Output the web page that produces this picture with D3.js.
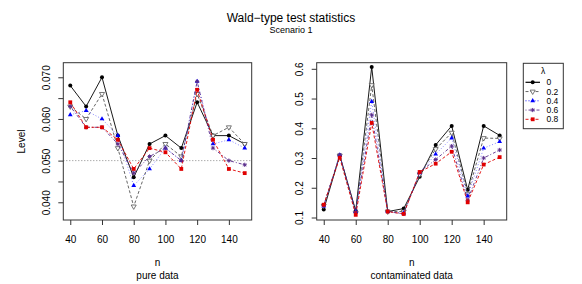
<!DOCTYPE html>
<html>
<head>
<meta charset="utf-8">
<script src="https://cdn.jsdelivr.net/npm/d3@7"></script>
<style>
body { margin: 0; background: #fff; }
text { font-family: "Liberation Sans", Arial, sans-serif; fill: #000; }
</style>
</head>
<body>
<div id="chart"></div>
<script>
const width = 582
const height = 284

// sample sizes
const nVals = [40, 50, 60, 70, 80, 90, 100, 110, 120, 130, 140, 150]
const lambdas = ["0", "0.2", "0.4", "0.6", "0.8"]

// level, pure data
const pureL0  = [0.068, 0.063, 0.070, 0.056, 0.046, 0.054, 0.056, 0.053, 0.064, 0.056, 0.056, 0.054]
const pureL02 = [0.063, 0.060, 0.066, 0.053, 0.039, 0.050, 0.054, 0.051, 0.066, 0.056, 0.058, 0.054]
const pureL04 = [0.061, 0.062, 0.060, 0.056, 0.044, 0.048, 0.053, 0.050, 0.069, 0.054, 0.055, 0.053]
const pureL06 = [0.063, 0.058, 0.058, 0.054, 0.047, 0.051, 0.053, 0.050, 0.069, 0.053, 0.050, 0.049]
const pureL08 = [0.064, 0.058, 0.058, 0.055, 0.048, 0.053, 0.052, 0.048, 0.067, 0.055, 0.048, 0.047]

// level, contaminated data
const contL0  = [0.127, 0.309, 0.123, 0.606, 0.120, 0.130, 0.237, 0.344, 0.408, 0.193, 0.408, 0.376]
const contL02 = [0.140, 0.308, 0.115, 0.545, 0.120, 0.120, 0.245, 0.330, 0.385, 0.180, 0.367, 0.366]
const contL04 = [0.138, 0.310, 0.120, 0.490, 0.120, 0.115, 0.250, 0.313, 0.367, 0.172, 0.333, 0.355]
const contL06 = [0.140, 0.310, 0.118, 0.445, 0.120, 0.112, 0.252, 0.295, 0.340, 0.158, 0.300, 0.327]
const contL08 = [0.143, 0.301, 0.109, 0.418, 0.120, 0.112, 0.253, 0.281, 0.321, 0.151, 0.278, 0.303]

const xTicks = [40, 60, 80, 100, 120, 140]
const pureYTicks = [0.040, 0.045, 0.050, 0.055, 0.060, 0.065, 0.070]
const pureYLabels = [0.040, 0.050, 0.060, 0.070]
const contYTicks = [0.1, 0.2, 0.3, 0.4, 0.5, 0.6]
const nominalLevel = 0.05

// look of each lambda series
const styles = [
    {color: "#000000", dash: null,      shape: "circle"},
    {color: "#555555", dash: "3,2",     shape: "triDown"},
    {color: "#0000ff", dash: "1,2",     shape: "triUp"},
    {color: "#5a2d8c", dash: "1,2,3,2", shape: "star"},
    {color: "#e00000", dash: "3,2",     shape: "square"}
]

const svg = d3.select("#chart").append("svg")
    .attr("width", width)
    .attr("height", height)

svg.append("text")
    .attr("x", 291).attr("y", 22)
    .attr("text-anchor", "middle")
    .style("font-size", "12px")
    .text("Wald\u2212type test statistics")

svg.append("text")
    .attr("x", 291).attr("y", 33)
    .attr("text-anchor", "middle")
    .style("font-size", "9px")
    .text("Scenario 1")

function drawMark(g, shape, color, x, y) {
    if (shape == "circle") {
        g.append("circle").attr("cx", x).attr("cy", y).attr("r", 2).attr("fill", color)
    } else if (shape == "square") {
        g.append("rect").attr("x", x - 1.9).attr("y", y - 1.9).attr("width", 3.8).attr("height", 3.8).attr("fill", color)
    } else if (shape == "triUp") {
        g.append("path").attr("d", d3.symbol(d3.symbolTriangle, 10)())
            .attr("transform", `translate(${x},${y})`).attr("fill", color)
    } else if (shape == "triDown") {
        g.append("path").attr("d", d3.symbol(d3.symbolTriangle, 11)())
            .attr("transform", `translate(${x},${y}) rotate(180)`)
            .attr("fill", "white").attr("stroke", color).attr("stroke-width", 0.8)
    } else if (shape == "star") {
        const r = 2.1
        const p = `M${x - r},${y}L${x + r},${y}M${x},${y - r}L${x},${y + r}` +
            `M${x - r * 0.7},${y - r * 0.7}L${x + r * 0.7},${y + r * 0.7}M${x - r * 0.7},${y + r * 0.7}L${x + r * 0.7},${y - r * 0.7}`
        g.append("path").attr("d", p).attr("stroke", color).attr("stroke-width", 1).attr("fill", "none")
    }
}

function panel(opts) {
    const x = d3.scaleLinear().domain([35.6, 154.4]).range([opts.x0, opts.x1])
    const y = d3.scaleLinear().domain(opts.yDomain).range([220, 62.7])
    const g = svg.append("g")

    // x axis
    const xa = g.append("g")
        .attr("transform", "translate(0,220)")
        .call(d3.axisBottom(x).tickValues(xTicks).tickSize(5))
    xa.select(".domain").remove()
    xa.selectAll("line").attr("stroke", "#333")
    xa.selectAll("text").attr("y", 22.5).attr("dy", 0)
        .style("font-size", "10px").style("font-family", "Liberation Sans, Arial, sans-serif")

    // y axis with labels parallel to the axis
    const ya = g.append("g")
        .attr("transform", `translate(${opts.x0},0)`)
        .call(d3.axisLeft(y).tickValues(opts.yTicks).tickSize(5)
            .tickFormat(d => opts.yLabels.some(v => Math.abs(v - d) < 1e-9) ? opts.fmt(d) : ""))
    ya.select(".domain").remove()
    ya.selectAll("line").attr("stroke", "#333")
    ya.selectAll("text")
        .attr("transform", "rotate(-90)")
        .attr("x", 0).attr("y", -13.5).attr("dy", 0)
        .attr("text-anchor", "middle")
        .style("font-size", "10px").style("font-family", "Liberation Sans, Arial, sans-serif")

    if (opts.refLine != null) {
        g.append("line")
            .attr("x1", opts.x0).attr("x2", opts.x1)
            .attr("y1", y(opts.refLine)).attr("y2", y(opts.refLine))
            .attr("stroke", "#888").attr("stroke-dasharray", "1,2")
    }

    const line = d3.line().x((d, i) => x(nVals[i])).y(d => y(d))
    opts.series.forEach((s, k) => {
        const st = styles[k]
        g.append("path")
            .attr("d", line(s))
            .attr("fill", "none")
            .attr("stroke", st.color)
            .attr("stroke-width", st.shape == "triUp" ? 0.8 : 0.9)
            .attr("stroke-opacity", st.shape == "triUp" ? 0.6 : 1)
            .attr("stroke-dasharray", st.dash)
        s.forEach((v, i) => drawMark(g, st.shape, st.color, x(nVals[i]), y(v)))
    })

    g.append("rect")
        .attr("x", opts.x0).attr("y", 62.7)
        .attr("width", opts.x1 - opts.x0).attr("height", 220 - 62.7)
        .attr("fill", "none").attr("stroke", "#333").attr("stroke-width", 1)

    const cx = (opts.x0 + opts.x1) / 2
    g.append("text").attr("x", cx).attr("y", 266).attr("text-anchor", "middle")
        .style("font-size", "10px").text("n")
    g.append("text").attr("x", cx).attr("y", 279).attr("text-anchor", "middle")
        .style("font-size", "10px").text(opts.xlab)
}

panel({
    x0: 63.3, x1: 251.7,
    yDomain: [0.03575, 0.0735],
    yTicks: pureYTicks, yLabels: pureYLabels,
    fmt: d3.format(".3f"),
    refLine: nominalLevel,
    series: [pureL0, pureL02, pureL04, pureL06, pureL08],
    xlab: "pure data"
})

panel({
    x0: 316.7, x1: 506.7,
    yDomain: [0.0916, 0.6205],
    yTicks: contYTicks, yLabels: contYTicks,
    fmt: d3.format(".1f"),
    refLine: null,
    series: [contL0, contL02, contL04, contL06, contL08],
    xlab: "contaminated data"
})

svg.append("text")
    .attr("transform", "translate(24.5,141.5) rotate(-90)")
    .attr("text-anchor", "middle")
    .style("font-size", "10px")
    .text("Level")

// legend
const leg = svg.append("g")
leg.append("rect")
    .attr("x", 523.3).attr("y", 63.3).attr("width", 40).attr("height", 65.4)
    .attr("fill", "white").attr("stroke", "#333")
leg.append("text").attr("x", 543).attr("y", 73.5).attr("text-anchor", "middle")
    .style("font-size", "8.5px").text("\u03bb")
lambdas.forEach((lab, k) => {
    const st = styles[k]
    const yy = 82.3 + k * 9.25
    leg.append("line").attr("x1", 525.5).attr("x2", 540).attr("y1", yy).attr("y2", yy)
        .attr("stroke", st.color).attr("stroke-dasharray", st.dash)
        .attr("stroke-width", k == 0 ? 1.2 : 0.9)
    drawMark(leg, st.shape, st.color, 532.7, yy)
    leg.append("text").attr("x", 546.5).attr("y", yy + 3)
        .style("font-size", "8.5px").text(lab)
})
</script>
</body>
</html>
